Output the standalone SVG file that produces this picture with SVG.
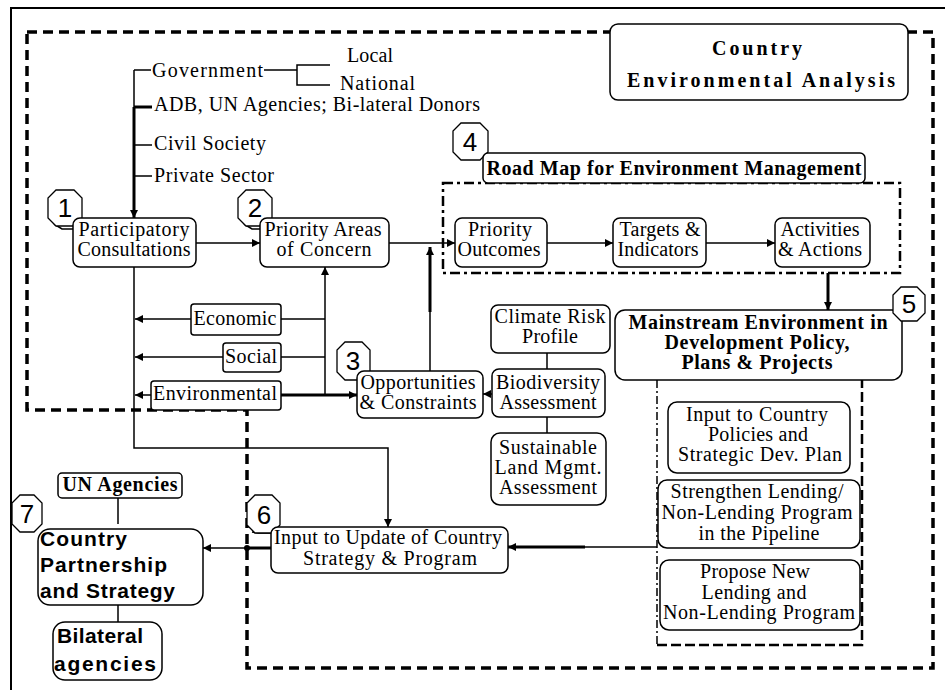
<svg xmlns="http://www.w3.org/2000/svg" width="945" height="690" viewBox="0 0 945 690">
<defs>
<marker id="ah" viewBox="0 0 10 10" markerWidth="9" markerHeight="8" refX="10" refY="5" orient="auto" markerUnits="userSpaceOnUse"><path d="M0,0 L10,5 L0,10 z" fill="#000"/></marker>
</defs>
<style>
.box{fill:#fff;stroke:#000;stroke-width:1.5}
.bdg{fill:#fff;stroke:#000;stroke-width:1.3}
.t{font-family:"Liberation Serif","Times New Roman",serif;font-size:20px;text-anchor:middle;fill:#000}
.l{text-anchor:start}
.b{font-weight:bold}
.n{font-family:"Liberation Sans",Arial,sans-serif;font-size:26px;text-anchor:middle;fill:#000}
.a{font-family:"Liberation Sans",Arial,sans-serif;font-size:21px;font-weight:bold;fill:#000}
.c{fill:none;stroke:#000;stroke-width:1.5}
.k{fill:none;stroke:#000;stroke-width:3}
.bigdash{fill:none;stroke:#000;stroke-width:3.5;stroke-dasharray:10 6}
</style>
<rect width="945" height="690" fill="#fff"/>
<path d="M11,690 V8 H945" fill="none" stroke="#000" stroke-width="2"/>
<g id="frames">
<path class="bigdash" d="M27,32 H933 V668 H247 V410 H27 Z"/>
<rect x="443" y="183" width="457" height="90" fill="none" stroke="#000" stroke-width="2.5" stroke-dasharray="10 4 3 4"/>
<path d="M657,380 V645" fill="none" stroke="#000" stroke-width="1.5" stroke-dasharray="8 3 2 3"/>
<path d="M657,645 H862 V380" fill="none" stroke="#000" stroke-width="2.5" stroke-dasharray="10 4"/>
</g>
<g id="connectors">
<path class="c" d="M134,70 V107"/>
<path class="k" d="M134,107 V218" marker-end="url(#ah)"/>
<path class="c" d="M134,70 H151 M134,145 H152 M134,176 H152"/>
<path class="k" d="M134,107 H152"/>
<path class="c" d="M264,70 H297 M330,65 H297 V85 H330"/>
<path class="c" d="M196,243 H260" marker-end="url(#ah)"/>
<path class="c" d="M389,243 H455" marker-end="url(#ah)"/>
<path class="c" d="M430,371 V310"/>
<path class="k" d="M430,312 V247" marker-end="url(#ah)"/>
<path class="c" d="M547,243 H613" marker-end="url(#ah)"/>
<path class="c" d="M706,243 H775" marker-end="url(#ah)"/>
<path class="k" d="M828,273 V310" marker-end="url(#ah)"/>
<path class="c" d="M134,267 V448 H388 V527" marker-end="url(#ah)"/>
<path class="c" d="M191,319 H135" marker-end="url(#ah)"/>
<path class="c" d="M223,357 H135" marker-end="url(#ah)"/>
<path class="c" d="M151,395 H135" marker-end="url(#ah)"/>
<path class="c" d="M281,319 H325 M281,357 H325"/>
<path class="c" d="M325,395 V267" marker-end="url(#ah)"/>
<path class="k" d="M281,395 H357" marker-end="url(#ah)"/>
<path class="c" d="M492,394 H483" marker-end="url(#ah)"/>
<path class="c" d="M547,353 V369 M547,417 V433"/>
<path class="c" d="M657,547 H583"/>
<path class="k" d="M585,547 H508" marker-end="url(#ah)"/>
<path class="k" d="M271,548 H247"/>
<path class="c" d="M247,548 H203" marker-end="url(#ah)"/>
<circle cx="247" cy="548" r="3" fill="#000"/>
<path class="c" d="M118,498 V524 M118,605 V622"/>
<path class="c" d="M54,224 L62,229 H73 M244,224 L252,229 H260 M252,532 L258,533 H272"/>
</g>
<g id="cea"><rect class="box" x="610" y="24" width="298" height="76" rx="8"/>
<text class="t b" x="757" y="55" font-size="24" textLength="90">Country</text>
<text class="t b" x="761" y="87" font-size="24" textLength="268">Environmental Analysis</text></g>
<g id="stakeholders">
<text class="t l" x="152" y="77" textLength="111">Government</text>
<text class="t l" x="347" y="62" textLength="46">Local</text>
<text class="t l" x="340" y="90" textLength="75">National</text>
<text class="t l" x="154" y="111" textLength="326">ADB, UN Agencies; Bi-lateral Donors</text>
<text class="t l" x="154" y="150" textLength="112">Civil Society</text>
<text class="t l" x="154" y="182" textLength="120">Private Sector</text>
</g>
<g id="n1"><polygon class="bdg" points="56,190 74,190 82,198 82,218 74,226 56,226 48,218 48,198"/><text class="n" x="65" y="217">1</text></g>
<g id="n2"><polygon class="bdg" points="246,190 264,190 272,198 272,218 264,226 246,226 238,218 238,198"/><text class="n" x="255" y="217">2</text></g>
<g id="n4"><polygon class="bdg" points="461,123 480,123 488,131 488,152 480,160 461,160 453,152 453,131"/><text class="n" x="470" y="151">4</text></g>
<g id="n3"><polygon class="bdg" points="345,342 362,342 370,350 370,372 362,380 345,380 337,372 337,350"/><text class="n" x="353" y="370">3</text></g>
<g id="n6"><polygon class="bdg" points="255,495 272,495 280,503 280,525 272,533 255,533 247,525 247,503"/><text class="n" x="264" y="524">6</text></g>
<g id="n7"><polygon class="bdg" points="20,495 34,495 42,503 42,524 34,532 20,532 12,524 12,503"/><text class="n" x="27" y="523">7</text></g>
<g id="participatory"><rect class="box" x="73" y="218" width="123" height="49" rx="7"/>
<text class="t" x="134" y="236" textLength="111">Participatory</text><text class="t" x="134" y="256" textLength="113">Consultations</text></g>
<g id="priority-areas"><rect class="box" x="260" y="218" width="129" height="49" rx="7"/>
<text class="t" x="323" y="236" textLength="117">Priority Areas</text><text class="t" x="324" y="256" textLength="95">of Concern</text></g>
<g id="roadmap"><rect class="box" x="483" y="153" width="382" height="30" rx="5"/>
<text class="t b" x="674" y="175" textLength="375">Road Map for Environment Management</text></g>
<g id="priority-outcomes"><rect class="box" x="455" y="218" width="92" height="49" rx="7"/>
<text class="t" x="500" y="236" textLength="64">Priority</text><text class="t" x="499" y="256" textLength="83">Outcomes</text></g>
<g id="targets"><rect class="box" x="613" y="218" width="93" height="49" rx="7"/>
<text class="t" x="660" y="236" textLength="81">Targets &amp;</text><text class="t" x="658" y="256" textLength="81">Indicators</text></g>
<g id="activities"><rect class="box" x="775" y="218" width="95" height="49" rx="7"/>
<text class="t" x="820" y="236" textLength="79">Activities</text><text class="t" x="820" y="256" textLength="84">&amp; Actions</text></g>
<g id="mainstream"><rect class="box" x="615" y="310" width="287" height="70" rx="10"/>
<text class="t b" x="758" y="329" textLength="259">Mainstream Environment in</text>
<text class="t b" x="757" y="349" textLength="185">Development Policy,</text>
<text class="t b" x="757" y="369" textLength="151">Plans &amp; Projects</text></g>
<g id="n5"><polygon class="bdg" points="901,287 917,287 925,295 925,313 917,321 901,321 893,313 893,295"/><text class="n" x="909" y="313">5</text></g>
<g id="policies"><rect class="box" x="668" y="402" width="182" height="71" rx="9"/>
<text class="t" x="757" y="421" textLength="142">Input to Country</text>
<text class="t" x="758" y="441" textLength="100">Policies and</text>
<text class="t" x="760" y="461" textLength="164">Strategic Dev. Plan</text></g>
<g id="strengthen"><rect class="box" x="658" y="480" width="202" height="68" rx="9"/>
<text class="t" x="757" y="498" textLength="173">Strengthen Lending/</text>
<text class="t" x="757" y="519" textLength="191">Non-Lending Program</text>
<text class="t" x="759" y="540" textLength="121">in the Pipeline</text></g>
<g id="propose"><rect class="box" x="660" y="560" width="200" height="70" rx="9"/>
<text class="t" x="755" y="578" textLength="110">Propose New</text>
<text class="t" x="754" y="599" textLength="105">Lending and</text>
<text class="t" x="759" y="619" textLength="192">Non-Lending Program</text></g>
<g id="economic"><rect class="box" x="191" y="304" width="90" height="31" rx="3"/><text class="t" x="235" y="325" textLength="83">Economic</text></g>
<g id="social"><rect class="box" x="223" y="343" width="58" height="29" rx="3"/><text class="t" x="251" y="363" textLength="52">Social</text></g>
<g id="environmental"><rect class="box" x="151" y="381" width="130" height="29" rx="3"/><text class="t" x="215" y="400" textLength="124">Environmental</text></g>
<g id="opportunities"><rect class="box" x="357" y="371" width="126" height="47" rx="7"/>
<text class="t" x="418" y="389" textLength="115">Opportunities</text><text class="t" x="418" y="409" textLength="117">&amp; Constraints</text></g>
<g id="climate"><rect class="box" x="491" y="305" width="119" height="48" rx="7"/>
<text class="t" x="550" y="323" textLength="111">Climate Risk</text><text class="t" x="550" y="343" textLength="56">Profile</text></g>
<g id="biodiversity"><rect class="box" x="492" y="369" width="113" height="48" rx="7"/>
<text class="t" x="548" y="389" textLength="104">Biodiversity</text><text class="t" x="548" y="409" textLength="97">Assessment</text></g>
<g id="sustainable"><rect class="box" x="491" y="433" width="115" height="72" rx="9"/>
<text class="t" x="548" y="454" textLength="98">Sustainable</text>
<text class="t" x="548" y="474" textLength="107">Land Mgmt.</text>
<text class="t" x="548" y="494" textLength="98">Assessment</text></g>
<g id="update"><rect class="box" x="271" y="527" width="237" height="46" rx="7"/>
<text class="t" x="388" y="544" textLength="228">Input to Update of Country</text>
<text class="t" x="390" y="565" textLength="174">Strategy &amp; Program</text></g>
<g id="un-agencies"><rect class="box" x="58" y="473" width="124" height="25" rx="4"/>
<text class="t b" x="120" y="491" font-size="19" textLength="115">UN Agencies</text></g>
<g id="cps"><rect class="box" x="38" y="529" width="165" height="76" rx="12"/>
<text class="a" x="40" y="546" textLength="87">Country</text>
<text class="a" x="40" y="572" textLength="127">Partnership</text>
<text class="a" x="40" y="598" textLength="135">and Strategy</text></g>
<g id="bilateral"><rect class="box" x="53" y="622" width="109" height="58" rx="12"/>
<text class="a" x="57" y="643" textLength="86">Bilateral</text>
<text class="a" x="54" y="671" textLength="102">agencies</text></g>
</svg>
